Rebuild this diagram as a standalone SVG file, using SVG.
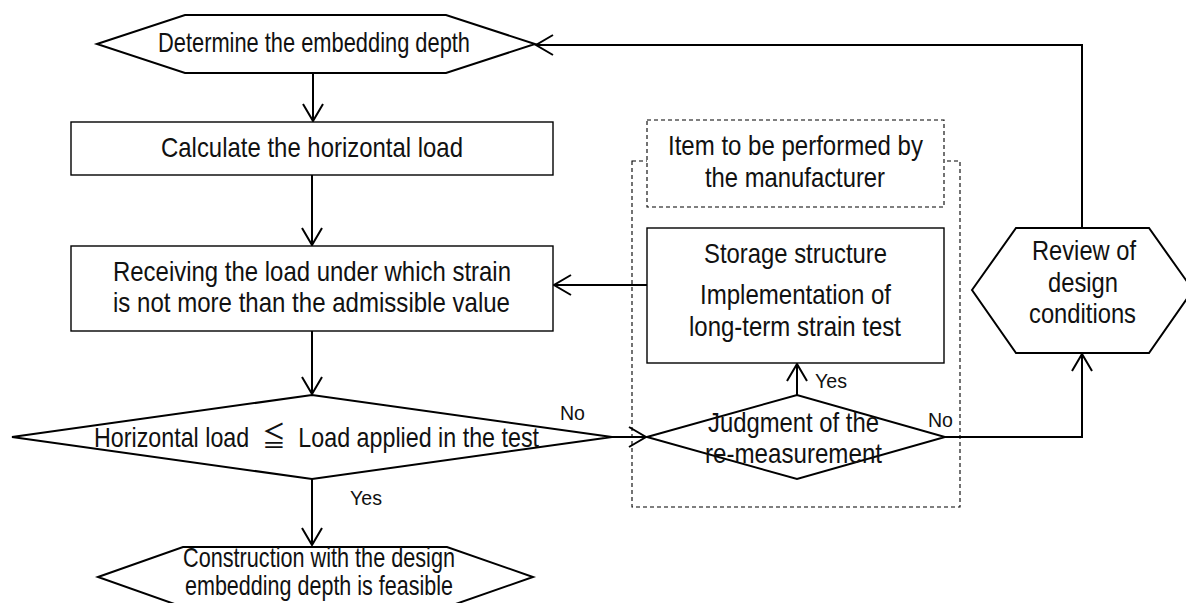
<svg xmlns="http://www.w3.org/2000/svg" width="1186" height="603" viewBox="0 0 1186 603">
<defs>
<marker id="arr" markerUnits="userSpaceOnUse" markerWidth="22" markerHeight="24" refX="19" refY="12" orient="auto">
<path d="M2,2 L19,12 L2,22" fill="none" stroke="#000" stroke-width="2"/>
</marker>
<style>
.t{font-family:"Liberation Sans Narrow","Liberation Sans",Arial,"Noto Sans CJK JP",sans-serif;font-size:28px;fill:#111}
.s{font-family:"Liberation Sans Narrow","Liberation Sans",Arial,sans-serif;font-size:21px;fill:#111}
.hex{fill:#fff;stroke:#000;stroke-width:2}
.box{fill:#fff;stroke:#000;stroke-width:1.4}
.dash{fill:none;stroke:#000;stroke-width:1.1;stroke-dasharray:4 3}
.dashw{fill:#fff;stroke:#000;stroke-width:1.1;stroke-dasharray:4 3}
.c{fill:none;stroke:#000;stroke-width:2}
</style>
</defs>
<rect width="1186" height="603" fill="#fff"/>

<g id="container">
<rect class="dash" x="632" y="161" width="328" height="346"/>
</g>
<g id="label-manufacturer">
<rect class="dashw" x="647" y="120" width="297" height="87"/>
<text class="t" x="668" y="155" textLength="255" lengthAdjust="spacingAndGlyphs">Item to be performed by</text>
<text class="t" x="705" y="187" textLength="180" lengthAdjust="spacingAndGlyphs">the manufacturer</text>
</g>

<g id="connectors">
<path class="c" d="M313,73 L313,121" marker-end="url(#arr)"/>
<path class="c" d="M312,175 L312,245" marker-end="url(#arr)"/>
<path class="c" d="M312,331 L312,394" marker-end="url(#arr)"/>
<path class="c" d="M312,479 L312,545" marker-end="url(#arr)"/>
<path class="c" d="M612,437 L646,437" marker-end="url(#arr)"/>
<path class="c" d="M797,395 L797,364" marker-end="url(#arr)"/>
<path class="c" d="M945,437 L1082,437 L1082,354" marker-end="url(#arr)"/>
<path class="c" d="M1082,228 L1082,45 L536,45" marker-end="url(#arr)"/>
<path class="c" d="M647,285 L554,285" marker-end="url(#arr)"/>
<text class="s" x="560" y="420" textLength="25" lengthAdjust="spacingAndGlyphs">No</text>
<text class="s" x="815" y="388" textLength="32" lengthAdjust="spacingAndGlyphs">Yes</text>
<text class="s" x="928" y="427" textLength="25" lengthAdjust="spacingAndGlyphs">No</text>
<text class="s" x="350" y="505" textLength="32" lengthAdjust="spacingAndGlyphs">Yes</text>
</g>

<g id="determine">
<polygon class="hex" points="97,44 185,15 446,15 535,44 446,73 185,73"/>
<text class="t" x="158" y="52" font-size="24" textLength="312" lengthAdjust="spacingAndGlyphs">Determine the embedding depth</text>
</g>

<g id="calculate">
<rect class="box" x="71" y="122" width="482" height="53"/>
<text class="t" x="161" y="157" font-size="29" textLength="302" lengthAdjust="spacingAndGlyphs">Calculate the horizontal load</text>
</g>

<g id="receiving">
<rect class="box" x="71" y="246" width="482" height="85"/>
<text class="t" x="113" y="281" textLength="398" lengthAdjust="spacingAndGlyphs">Receiving the load under which strain</text>
<text class="t" x="113" y="312" textLength="397" lengthAdjust="spacingAndGlyphs">is not more than the admissible value</text>
</g>

<g id="compare">
<polygon class="hex" points="12,437 312,395 612,437 312,479"/>
<text class="t" x="94" y="447" font-size="23" xml:space="preserve" textLength="445" lengthAdjust="spacingAndGlyphs">Horizontal load  ≦  Load applied in the test</text>
</g>

<g id="feasible">
<polygon class="hex" points="98,577 183,547 447,547 533,577 447,607 183,607"/>
<text class="t" x="183" y="567" font-size="22" textLength="272" lengthAdjust="spacingAndGlyphs">Construction with the design</text>
<text class="t" x="185" y="595" font-size="22" textLength="268" lengthAdjust="spacingAndGlyphs">embedding depth is feasible</text>
</g>

<g id="storage">
<rect class="box" x="647" y="228" width="297" height="135"/>
<text class="t" x="704" y="263" textLength="183" lengthAdjust="spacingAndGlyphs">Storage structure</text>
<text class="t" x="700" y="304" textLength="191" lengthAdjust="spacingAndGlyphs">Implementation of</text>
<text class="t" x="689" y="336" textLength="212" lengthAdjust="spacingAndGlyphs">long-term strain test</text>
</g>

<g id="judgment">
<polygon class="hex" points="647,437 797,395 945,437 797,479"/>
<text class="t" x="708" y="432" textLength="171" lengthAdjust="spacingAndGlyphs">Judgment of the</text>
<text class="t" x="705" y="463" textLength="177" lengthAdjust="spacingAndGlyphs">re-measurement</text>
</g>

<g id="review">
<polygon class="hex" points="972,290 1016,228 1149,228 1193,290 1149,353 1016,353"/>
<text class="t" x="1032" y="260" font-size="27" textLength="104" lengthAdjust="spacingAndGlyphs">Review of</text>
<text class="t" x="1048" y="292" font-size="27" textLength="70" lengthAdjust="spacingAndGlyphs">design</text>
<text class="t" x="1029" y="323" font-size="27" textLength="107" lengthAdjust="spacingAndGlyphs">conditions</text>
</g>
</svg>
